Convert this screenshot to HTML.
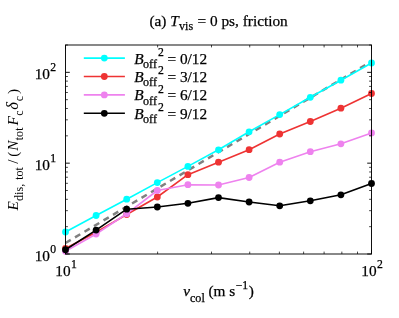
<!DOCTYPE html>
<html><head><meta charset="utf-8"><title>chart</title>
<style>html,body{margin:0;padding:0;background:#fff;}body{width:399px;height:318px;overflow:hidden;}svg{display:block;}text{font-family:"Liberation Serif",serif;fill:#000;stroke:#000;stroke-width:0.25px;}</style>
</head><body>
<svg width="399" height="318" viewBox="0 0 399 318">
<rect x="0" y="0" width="399" height="318" fill="#ffffff"/>
<line x1="65.5" y1="243.0" x2="371.5" y2="61.4" stroke="#808080" stroke-width="2.5" stroke-dasharray="6.1 4.95"/>
<polyline points="65.50,232.00 96.10,215.50 126.70,199.20 157.30,182.60 187.90,166.40 218.50,149.80 249.10,131.80 279.70,114.60 310.30,97.30 340.90,80.20 371.50,63.00" fill="none" stroke="#00ffff" stroke-width="1.62" stroke-linejoin="round"/>
<circle cx="65.50" cy="232.00" r="3.4" fill="#00ffff"/>
<circle cx="96.10" cy="215.50" r="3.4" fill="#00ffff"/>
<circle cx="126.70" cy="199.20" r="3.4" fill="#00ffff"/>
<circle cx="157.30" cy="182.60" r="3.4" fill="#00ffff"/>
<circle cx="187.90" cy="166.40" r="3.4" fill="#00ffff"/>
<circle cx="218.50" cy="149.80" r="3.4" fill="#00ffff"/>
<circle cx="249.10" cy="131.80" r="3.4" fill="#00ffff"/>
<circle cx="279.70" cy="114.60" r="3.4" fill="#00ffff"/>
<circle cx="310.30" cy="97.30" r="3.4" fill="#00ffff"/>
<circle cx="340.90" cy="80.20" r="3.4" fill="#00ffff"/>
<circle cx="371.50" cy="63.00" r="3.4" fill="#00ffff"/>
<polyline points="65.50,248.50 96.10,232.20 126.70,214.50 157.30,197.00 187.90,174.70 218.50,162.20 249.10,149.70 279.70,134.00 310.30,121.50 340.90,108.20 371.50,93.50" fill="none" stroke="#ee3333" stroke-width="1.62" stroke-linejoin="round"/>
<circle cx="65.50" cy="248.50" r="3.4" fill="#ee3333"/>
<circle cx="96.10" cy="232.20" r="3.4" fill="#ee3333"/>
<circle cx="126.70" cy="214.50" r="3.4" fill="#ee3333"/>
<circle cx="157.30" cy="197.00" r="3.4" fill="#ee3333"/>
<circle cx="187.90" cy="174.70" r="3.4" fill="#ee3333"/>
<circle cx="218.50" cy="162.20" r="3.4" fill="#ee3333"/>
<circle cx="249.10" cy="149.70" r="3.4" fill="#ee3333"/>
<circle cx="279.70" cy="134.00" r="3.4" fill="#ee3333"/>
<circle cx="310.30" cy="121.50" r="3.4" fill="#ee3333"/>
<circle cx="340.90" cy="108.20" r="3.4" fill="#ee3333"/>
<circle cx="371.50" cy="93.50" r="3.4" fill="#ee3333"/>
<polyline points="65.50,251.30 96.10,234.00 126.70,213.80 157.30,190.50 187.90,184.70 218.50,185.00 249.10,177.50 279.70,162.20 310.30,151.70 340.90,143.80 371.50,132.90" fill="none" stroke="#ee82ee" stroke-width="1.62" stroke-linejoin="round"/>
<circle cx="65.50" cy="251.30" r="3.4" fill="#ee82ee"/>
<circle cx="96.10" cy="234.00" r="3.4" fill="#ee82ee"/>
<circle cx="126.70" cy="213.80" r="3.4" fill="#ee82ee"/>
<circle cx="157.30" cy="190.50" r="3.4" fill="#ee82ee"/>
<circle cx="187.90" cy="184.70" r="3.4" fill="#ee82ee"/>
<circle cx="218.50" cy="185.00" r="3.4" fill="#ee82ee"/>
<circle cx="249.10" cy="177.50" r="3.4" fill="#ee82ee"/>
<circle cx="279.70" cy="162.20" r="3.4" fill="#ee82ee"/>
<circle cx="310.30" cy="151.70" r="3.4" fill="#ee82ee"/>
<circle cx="340.90" cy="143.80" r="3.4" fill="#ee82ee"/>
<circle cx="371.50" cy="132.90" r="3.4" fill="#ee82ee"/>
<polyline points="65.50,249.70 96.10,230.10 126.70,209.20 157.30,207.00 187.90,203.30 218.50,197.60 249.10,202.00 279.70,205.80 310.30,200.80 340.90,194.80 371.50,183.50" fill="none" stroke="#000000" stroke-width="1.62" stroke-linejoin="round"/>
<circle cx="65.50" cy="249.70" r="3.4" fill="#000000"/>
<circle cx="96.10" cy="230.10" r="3.4" fill="#000000"/>
<circle cx="126.70" cy="209.20" r="3.4" fill="#000000"/>
<circle cx="157.30" cy="207.00" r="3.4" fill="#000000"/>
<circle cx="187.90" cy="203.30" r="3.4" fill="#000000"/>
<circle cx="218.50" cy="197.60" r="3.4" fill="#000000"/>
<circle cx="249.10" cy="202.00" r="3.4" fill="#000000"/>
<circle cx="279.70" cy="205.80" r="3.4" fill="#000000"/>
<circle cx="310.30" cy="200.80" r="3.4" fill="#000000"/>
<circle cx="340.90" cy="194.80" r="3.4" fill="#000000"/>
<circle cx="371.50" cy="183.50" r="3.4" fill="#000000"/>
<path d="M65.50 254.00h4.3M371.50 254.00h-4.3M65.50 163.17h4.3M371.50 163.17h-4.3M65.50 72.34h4.3M371.50 72.34h-4.3M65.50 254.00v-4.3M65.50 45.00v4.3M371.50 254.00v-4.3M371.50 45.00v4.3" stroke="#000" stroke-width="0.93" fill="none"/>
<path d="M65.50 226.66h2.4M371.50 226.66h-2.4M65.50 210.66h2.4M371.50 210.66h-2.4M65.50 199.32h2.4M371.50 199.32h-2.4M65.50 190.51h2.4M371.50 190.51h-2.4M65.50 183.32h2.4M371.50 183.32h-2.4M65.50 177.24h2.4M371.50 177.24h-2.4M65.50 171.97h2.4M371.50 171.97h-2.4M65.50 167.33h2.4M371.50 167.33h-2.4M65.50 135.83h2.4M371.50 135.83h-2.4M65.50 119.83h2.4M371.50 119.83h-2.4M65.50 108.49h2.4M371.50 108.49h-2.4M65.50 99.68h2.4M371.50 99.68h-2.4M65.50 92.49h2.4M371.50 92.49h-2.4M65.50 86.41h2.4M371.50 86.41h-2.4M65.50 81.14h2.4M371.50 81.14h-2.4M65.50 76.50h2.4M371.50 76.50h-2.4M65.50 45.00h2.4M371.50 45.00h-2.4M157.62 254.00v-2.4M157.62 45.00v2.4M211.50 254.00v-2.4M211.50 45.00v2.4M249.73 254.00v-2.4M249.73 45.00v2.4M279.38 254.00v-2.4M279.38 45.00v2.4M303.61 254.00v-2.4M303.61 45.00v2.4M324.10 254.00v-2.4M324.10 45.00v2.4M341.85 254.00v-2.4M341.85 45.00v2.4M357.50 254.00v-2.4M357.50 45.00v2.4" stroke="#000" stroke-width="0.72" fill="none"/>
<rect x="65.5" y="45.0" width="306.00" height="209.00" fill="none" stroke="#000" stroke-width="0.93"/>
<line x1="83.8" y1="58.1" x2="124.9" y2="58.1" stroke="#00ffff" stroke-width="1.62"/>
<circle cx="104.3" cy="58.1" r="3.4" fill="#00ffff"/>
<line x1="83.8" y1="76.5" x2="124.9" y2="76.5" stroke="#ee3333" stroke-width="1.62"/>
<circle cx="104.3" cy="76.5" r="3.4" fill="#ee3333"/>
<line x1="83.8" y1="94.9" x2="124.9" y2="94.9" stroke="#ee82ee" stroke-width="1.62"/>
<circle cx="104.3" cy="94.9" r="3.4" fill="#ee82ee"/>
<line x1="83.8" y1="113.3" x2="124.9" y2="113.3" stroke="#000000" stroke-width="1.62"/>
<circle cx="104.3" cy="113.3" r="3.4" fill="#000000"/>
<filter id="g" x="0" y="0" width="399" height="318" filterUnits="userSpaceOnUse"><feOffset dx="0" dy="0"/></filter>
<g filter="url(#g)">
<text x="134.3" y="63.50" font-size="15.3" text-anchor="start"><tspan font-style="italic">B</tspan><tspan font-size="12.1" dy="4.5" dx="-0.6">off</tspan><tspan font-size="11.7" dy="-12.2" dx="0.95">2</tspan><tspan dy="7.7" dx="3.75">= 0/12</tspan></text>
<text x="134.3" y="81.90" font-size="15.3" text-anchor="start"><tspan font-style="italic">B</tspan><tspan font-size="12.1" dy="4.5" dx="-0.6">off</tspan><tspan font-size="11.7" dy="-12.2" dx="0.95">2</tspan><tspan dy="7.7" dx="3.75">= 3/12</tspan></text>
<text x="134.3" y="100.30" font-size="15.3" text-anchor="start"><tspan font-style="italic">B</tspan><tspan font-size="12.1" dy="4.5" dx="-0.6">off</tspan><tspan font-size="11.7" dy="-12.2" dx="0.95">2</tspan><tspan dy="7.7" dx="3.75">= 6/12</tspan></text>
<text x="134.3" y="118.70" font-size="15.3" text-anchor="start"><tspan font-style="italic">B</tspan><tspan font-size="12.1" dy="4.5" dx="-0.6">off</tspan><tspan font-size="11.7" dy="-12.2" dx="0.95">2</tspan><tspan dy="7.7" dx="3.75">= 9/12</tspan></text>
<text x="218.6" y="25.6" font-size="15.3" text-anchor="middle"><tspan>(a) </tspan><tspan font-style="italic">T</tspan><tspan font-size="12.1" dy="4.5" dx="0.2">vis</tspan><tspan dy="-4.5" dx="4.4">= 0 ps, friction</tspan></text>
<text x="218.5" y="296.4" font-size="15.3" text-anchor="middle"><tspan font-style="italic">v</tspan><tspan font-size="12.1" dy="5.6">col</tspan><tspan dy="-5.6" dx="3.7">(m s</tspan><tspan font-size="11.7" dy="-7.4" dx="0.5">−1</tspan><tspan dy="7.4" dx="0.5">)</tspan></text>
<text x="56.1" y="79.24222031539287" font-size="15.3" text-anchor="end"><tspan>10</tspan><tspan font-size="11.7" dy="-8.3" dx="0.3">2</tspan></text>
<text x="56.1" y="170.07111015769644" font-size="15.3" text-anchor="end"><tspan>10</tspan><tspan font-size="11.7" dy="-8.3" dx="0.3">1</tspan></text>
<text x="56.1" y="260.9" font-size="15.3" text-anchor="end"><tspan>10</tspan><tspan font-size="11.7" dy="-8.3" dx="0.3">0</tspan></text>
<text x="66.0" y="276.0" font-size="15.3" text-anchor="middle"><tspan>10</tspan><tspan font-size="11.7" dy="-8.3" dx="0.3">1</tspan></text>
<text x="372.0" y="276.0" font-size="15.3" text-anchor="middle"><tspan>10</tspan><tspan font-size="11.7" dy="-8.3" dx="0.3">2</tspan></text>
<g transform="translate(18.4,210.6) rotate(-90)">
<text x="0" y="0" font-size="15.3" text-anchor="start" style="stroke:none"><tspan font-style="italic">E</tspan><tspan font-size="12.1" dy="4.5" dx="0.3">dis,</tspan><tspan font-size="12.1" dx="4.0">tot</tspan><tspan dy="-4.5" dx="3.4">/</tspan><tspan dx="2.6">(</tspan><tspan font-style="italic" dx="0.9">N</tspan><tspan font-size="12.1" dy="4.5" dx="0.3">tot</tspan><tspan font-style="italic" dy="-4.5" dx="2.1">F</tspan><tspan font-size="12.1" dy="4.5" dx="0.3">c</tspan><tspan font-style="italic" font-size="16.6" dy="-4.5" dx="0.6">δ</tspan><tspan font-size="12.1" dy="4.5" dx="0.7">c</tspan><tspan dy="-4.5" dx="1.9">)</tspan></text>
</g>
</g>
</svg></body></html>
